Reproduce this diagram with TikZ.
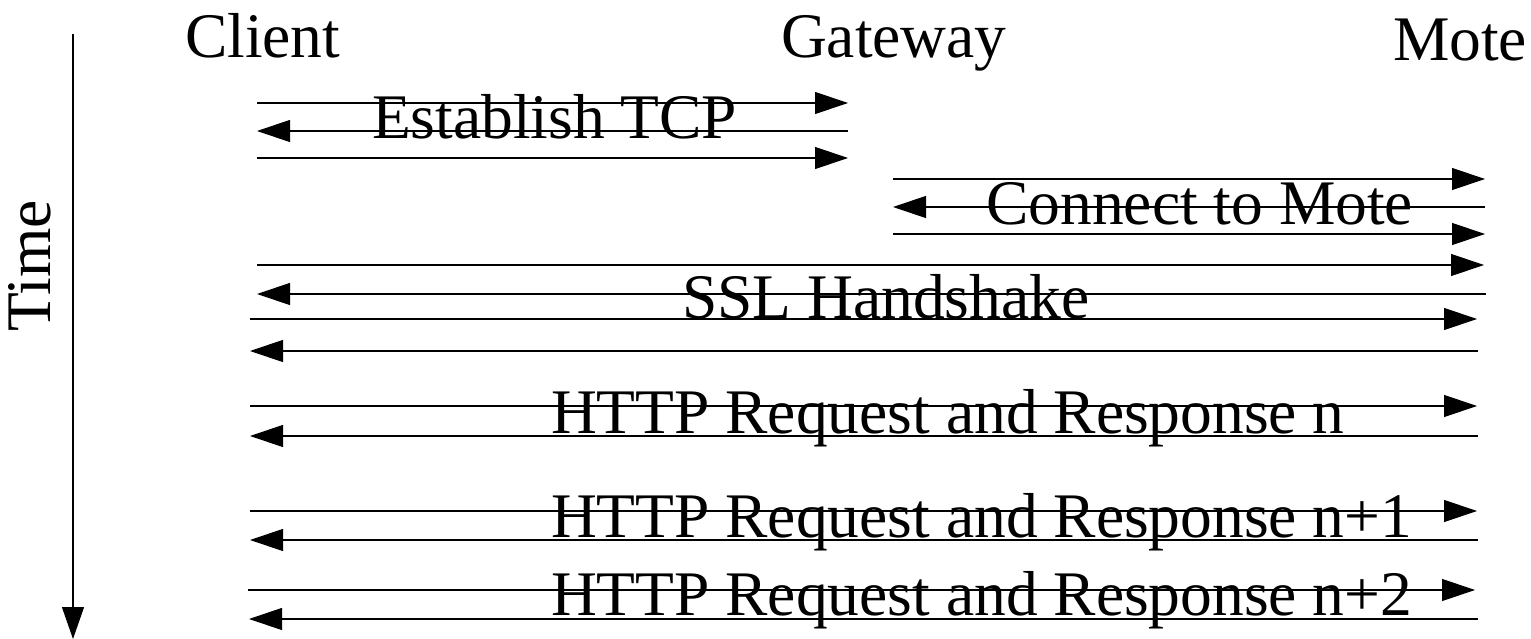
\documentclass[tikz,border=0pt]{standalone}
\usepackage{fontspec}
\setmainfont{Liberation Serif}
\usetikzlibrary{arrows.meta}
\tikzset{
  lbl/.style={inner sep=0pt, outer sep=0pt, anchor=base west, font=\fontsize{63.5}{70}\selectfont},
  msgR/.style={line width=1.2pt, -{Triangle[length=33pt,width=22pt]}},
  msgL/.style={line width=1.2pt, {Triangle[length=33pt,width=22pt]}-},
  timeax/.style={line width=1.2pt, -{Triangle[length=32pt,width=22pt]}}
}
\begin{document}
\begin{tikzpicture}[x=1pt,y=-1pt]
\useasboundingbox (0,0) rectangle (1531,639);
% time axis
\coordinate (t0) at (73,34);
\coordinate (t1) at (73,639);
\draw[timeax] (t0) -- (t1);
\node[lbl, anchor=base, rotate=90] (time) at (50.5,266) {Time};
% headers
\node[lbl] (client) at (185,57.5) {Client};
\node[lbl] (gateway) at (781,58) {Gateway};
\node[lbl] (mote) at (1393,61) {Mote};
% messages
\foreach \i/\y/\xa/\xb/\d in {
  1/103/257/848/msgR, 2/131/257/848/msgL, 3/158/257/848/msgR,
  4/179/893/1485/msgR, 5/207/893/1485/msgL, 6/234/893/1485/msgR,
  7/265/257/1484/msgR, 8/294/257/1486/msgL, 9/319/250/1477/msgR, 10/351/250/1478/msgL,
  11/406/250/1477/msgR, 12/436/250/1478/msgL,
  13/511/250/1477/msgR, 14/540/250/1478/msgL,
  15/590/248/1475/msgR, 16/619/249/1478/msgL}{
  \coordinate (s\i) at (\xa,\y);
  \coordinate (e\i) at (\xb,\y);
  \draw[\d] (s\i) -- (e\i);
}
% labels
\node[lbl] (tcp) at (372,139) {Establish TCP};
\node[lbl, anchor=base east] (connect) at (1413,225) {Connect to Mote};
\node[lbl] (ssl) at (682,318.5) {SSL Handshake};
\node[lbl] (http1) at (551,433) {HTTP Request and Response n};
\node[lbl] (http2) at (551,537) {HTTP Request and Response n+1};
\node[lbl] (http3) at (551,615) {HTTP Request and Response n+2};
\end{tikzpicture}
\end{document}
